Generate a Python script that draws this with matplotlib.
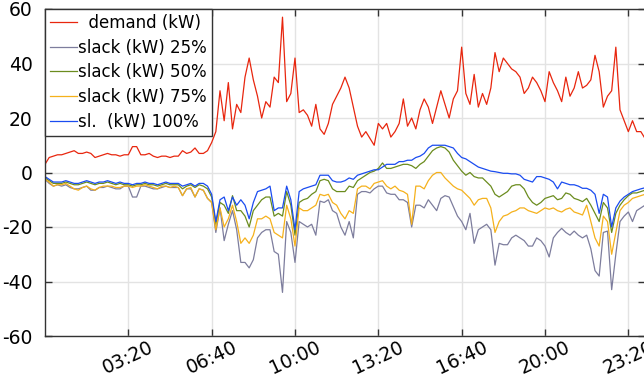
import matplotlib
matplotlib.use("Agg")
import matplotlib.pyplot as plt
import numpy as np

# time in minutes since midnight (10-minute samples)
minutes = list(range(0, 1441, 10))

demand = [3, 5.5, 6, 6.5, 6.5, 7, 7.5, 8, 7, 7,
          7.5, 7, 5.5, 6, 6.5, 7, 6.5, 6.5, 6, 6.5,
          6.5, 9.5, 9.5, 6.5, 6.5, 7, 6, 5.5, 6, 6,
          5.5, 6, 6, 8, 7, 7.5, 9, 7, 7, 8,
          11, 15, 30, 19, 33, 16, 25, 22, 35, 42,
          34, 28, 20, 26, 24, 35, 33, 57, 26, 29,
          42, 22, 23, 21, 17, 25, 16, 14, 18, 25,
          28, 31, 35, 31, 24, 17, 13, 15, 12.5, 10,
          18, 16, 18, 13, 15, 18, 27, 17, 20, 16,
          23, 27, 24, 18, 24, 30, 25, 20, 27, 30,
          46, 29, 25, 36, 24, 29, 25, 31, 44, 37,
          42, 40, 38, 37, 35, 29, 31, 35, 33, 30,
          26, 37, 33, 30, 26, 35, 28, 31, 37, 31,
          32, 34, 43, 37, 24, 28, 30, 46, 23, 19,
          15, 19, 15, 15, 12.5]

slack_100 = [-1.5, -2.5, -3.5, -3.5, -3.5, -3, -3.5, -4, -4, -3.5,
             -3, -3.5, -4, -3.5, -3.5, -3, -3.5, -4, -3.5, -4,
             -4, -4.5, -4, -4, -3.5, -4, -4, -4.5, -4, -3.5,
             -4, -4, -4, -5, -4.5, -4, -5, -4, -4, -5,
             -8, -18, -10, -9, -14, -9, -12, -10, -12, -17,
             -11, -7, -6.5, -6, -5, -14, -13, -13, -5, -10,
             -21, -7, -6, -5.5, -5, -4.5, -1, -1, -1, -3,
             -3.5, -3.5, -3, -2, -2.5, -1, -0.5, 0, 0.5, 1,
             1, 2, 3, 3, 3, 4, 4, 4.5, 4.5, 5.5,
             6, 7, 9, 10, 10, 10, 10, 9.5, 9, 7,
             5.5, 5, 4, 3, 2, 1.5, 1, 0.5, 0.3, 0,
             -0.3, -0.3, -0.5, -0.5, -1, -2.5, -3, -3.5, -1.5, -1.5,
             -2, -2.5, -3.5, -6, -3.5, -4, -4.5, -4.5, -5, -5.8,
             -5.8, -6.5, -8, -15, -8, -9, -20, -13, -10.5, -9,
             -8, -7, -6.5, -6, -5.6]

slack_50 = [-2, -3, -4, -4, -4, -3.5, -4, -4.5, -4.5, -4,
            -3.5, -4, -4.5, -4, -4, -3.5, -4, -4.5, -4, -4.5,
            -4.5, -5, -4.5, -4.5, -4, -4.5, -4.5, -5, -4.5, -4,
            -4.5, -4.5, -4.5, -6, -5, -4.5, -5.5, -4.5, -5, -6,
            -9, -19, -11, -12, -15, -8.5, -14, -14, -16, -20,
            -14, -12, -10, -9, -9, -16, -15, -16, -7, -12,
            -23, -11, -10, -9.5, -8, -7, -3, -2.5, -3, -6,
            -7, -7, -7, -5, -5.5, -3, -2, -1, 0, 0.5,
            1.5, 3.5, 1.5, 1.5, 2, 2.5, 3, 3, 2.5, 1.5,
            3, 4, 6, 8, 9, 9.5, 9, 7.5, 4.5, 2.5,
            0.5, -1, 0, -1.5, -2, -2, -3.5, -5, -8, -9,
            -8, -7, -5, -4.5, -4.5, -6, -9, -11, -12, -11,
            -9.5, -9, -8.5, -10, -9.5, -7.5, -8, -9.5, -10, -10.7,
            -9.5, -12, -15, -18, -11, -13, -22, -15, -12, -10,
            -8.5, -7.5, -7.5, -7, -6.5]

slack_75 = [-2.5, -3.5, -5, -4.5, -4.5, -4, -5, -6, -6.5, -5.5,
            -5, -6, -6.5, -5.5, -5, -5, -5, -5.5, -5.5, -5,
            -5, -5.5, -5, -5, -4.5, -5, -5.5, -6, -5, -5,
            -5.5, -5, -5.5, -8.5, -6, -5.5, -9, -6, -6.5, -9.5,
            -11, -21, -13, -20, -17, -12, -18, -26, -24, -26,
            -23, -17, -17, -16, -17, -22, -23, -24, -12, -17,
            -27, -13, -14, -14, -13, -12, -8, -8.5, -8, -11,
            -12, -15, -17, -14, -15, -6, -5, -5, -6, -4,
            -3.5, -3, -5, -6, -5, -6.5, -7, -8, -19, -5,
            -5, -6, -3, -1, 0, 0, -2, -3.5, -5, -6,
            -6.5, -8, -9.5, -12, -10, -9.5, -9.5, -13, -22, -18,
            -16, -15.5, -14.5, -14, -13, -13, -14, -14.5, -15, -14,
            -13, -13.5, -13, -14, -14.5, -13.5, -13, -14.5, -15, -15.6,
            -12, -18, -24, -27, -16, -18, -30, -22, -14, -12,
            -11, -9.5, -9, -8.5, -8]

slack_25 = [-2.5, -4, -5, -4.5, -5, -4.5, -5.5, -6, -6, -5.5,
            -5, -6.5, -6.5, -5.5, -5.5, -5, -5.5, -6, -6, -5,
            -5, -9, -9, -5, -5, -5.5, -6, -6, -5.5, -5,
            -5.5, -5.5, -5.5, -8.5, -6, -6, -9, -6, -6.5, -9.5,
            -11, -22, -13, -25, -19, -14, -21, -33, -33, -35,
            -32, -24, -22, -21, -21, -29, -30, -44, -18, -22,
            -33, -18, -19, -20, -19, -23, -10.5, -11, -10, -14,
            -15, -20, -23, -18, -24, -8, -7, -7, -7.5, -6,
            -5, -5, -7.5, -8, -8, -10, -10, -11, -20, -12,
            -12, -13, -10, -12, -14, -9.5, -8.5, -9, -12.5, -16,
            -18, -21, -15, -26, -21, -20, -19, -21, -34, -26,
            -26.5, -26.5, -24, -23, -24, -25, -27, -27, -24, -25,
            -27, -31, -24, -22, -20.5, -22, -23, -21.5, -23, -24,
            -23, -28, -36, -38, -22, -21.5, -43, -30, -18, -16,
            -14.5, -18, -14, -13, -12]

series_labels = ["  demand (kW)", "slack (kW) 25%", "slack (kW) 50%",
                 "slack (kW) 75%", "sl.  (kW) 100%"]
series_colors = ["#e8260e", "#7d7d9d", "#6b8c1e", "#f5b11c", "#1a4cf0"]

xtick_pos = [200, 400, 600, 800, 1000, 1200, 1400]
xtick_labels = ["03:20", "06:40", "10:00", "13:20", "16:40", "20:00", "23:20"]
ytick_pos = [-60, -40, -20, 0, 20, 40, 60]
ytick_labels = ["-60", "-40", "-20", "0", "20", "40", "60"]

W, H = 644, 382
fig = plt.figure(figsize=(W / 100, H / 100), dpi=100)
ax = fig.add_axes([45 / W, (H - 336) / H, 600 / W, (336 - 9) / H])

all_series = [demand, slack_25, slack_50, slack_75, slack_100]
for vals, lab, col in zip(all_series, series_labels, series_colors):
    ax.plot(minutes, vals, color=col, lw=0.9, label=lab)

ax.set_xlim(0, 1440)
ax.set_ylim(-60, 60)
ax.set_xticks(xtick_pos)
ax.set_xticklabels(xtick_labels, rotation=25, ha="center", va="top", fontsize=13.5)
ax.set_yticks(ytick_pos)
ax.set_yticklabels(ytick_labels, fontsize=13.5)
ax.grid(True, color="#e3e3e3", lw=1.0, zorder=0)
ax.set_axisbelow(True)
ax.tick_params(axis="both", direction="in", length=5, width=1.0, color="#333333",
               top=True, right=True)
ax.tick_params(axis="y", pad=9)
ax.tick_params(axis="x", pad=1)
for s in ax.spines.values():
    s.set_color("#333333")
    s.set_linewidth(1.0)

leg = ax.legend(loc="upper left", fontsize=12, frameon=True, fancybox=False,
                framealpha=1, edgecolor="#333333", borderaxespad=0,
                handlelength=1.6, handletextpad=0.1, labelspacing=0.4,
                borderpad=0.3)
leg.get_frame().set_linewidth(1.0)

fig.savefig("out.png", dpi=100)
